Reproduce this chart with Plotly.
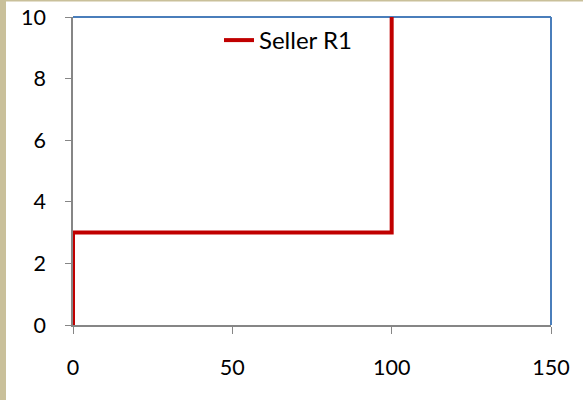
import plotly.graph_objects as go

# Step curve for the seller: price steps at quantity 0 and 100
quantity = [0, 0, 100, 100]
price = [0, 3, 3, 10]
series_name = "Seller R1"

x_ticks = [0, 50, 100, 150]
y_ticks = [0, 2, 4, 6, 8, 10]

W, H = 583, 400
ML, MR, MT, MB = 73, 32, 17, 75
PW, PH = W - ML - MR, H - MT - MB

fig = go.Figure()
fig.add_trace(go.Scatter(
    x=quantity, y=price, mode="lines", name=series_name,
    line=dict(color="#C00000", width=4),
    cliponaxis=False,
))

family = "Lato, 'Open Sans', sans-serif"
tick_font = dict(family=family, size=21.5, color="#000000")
legend_font = dict(family=family, size=24, color="#000000")

fig.update_layout(
    width=W, height=H,
    margin=dict(l=ML, r=MR, t=MT, b=MB, autoexpand=False),
    paper_bgcolor="white", plot_bgcolor="white",
    font=tick_font,
    showlegend=True,
    legend=dict(x=(219 - ML) / PW, y=1 - (18 - MT) / PH, xanchor="left", yanchor="top",
                bgcolor="rgba(0,0,0,0)", font=legend_font),
    xaxis=dict(range=[0, 150], tickvals=x_ticks, showgrid=False, zeroline=False,
               showline=True, linecolor="#868686", linewidth=1.5,
               ticks="outside", ticklen=7, tickcolor="#868686", layer="below traces",
               ticklabelstandoff=15, automargin=False, tickfont=tick_font),
    yaxis=dict(range=[0, 10], tickvals=y_ticks, showgrid=False, zeroline=False,
               showline=True, linecolor="#868686", linewidth=1.5,
               ticks="outside", ticklen=6, tickcolor="#868686", layer="below traces",
               ticklabelstandoff=15, automargin=False, tickfont=tick_font),
    shapes=[
        # blue frame on top and right
        dict(type="line", xref="paper", yref="paper", x0=0, x1=1, y0=1, y1=1,
             line=dict(color="#4A7EBB", width=2), layer="below"),
        dict(type="line", xref="paper", yref="paper", x0=1, x1=1, y0=0, y1=1,
             line=dict(color="#4A7EBB", width=2), layer="below"),
        # tan page border at left and top
        dict(type="rect", xref="paper", yref="paper",
             x0=-ML / PW, x1=(6 - ML) / PW, y0=-MB / PH, y1=1 + MT / PH,
             line=dict(width=0), fillcolor="#C9C09A"),
        dict(type="rect", xref="paper", yref="paper",
             x0=-ML / PW, x1=1 + MR / PW, y0=1 + (MT - 1.5) / PH, y1=1 + MT / PH,
             line=dict(width=0), fillcolor="#C9C09A"),
    ],
)

fig.write_html("out.html")
